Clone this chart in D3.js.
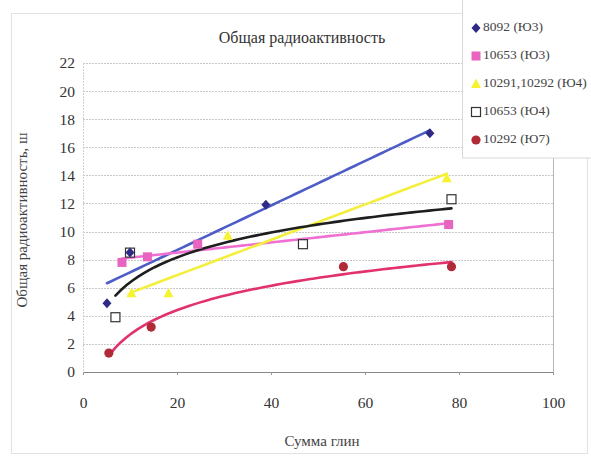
<!DOCTYPE html>
<html><head><meta charset="utf-8">
<script src="https://cdn.jsdelivr.net/npm/d3@7"></script>
<style>body{margin:0;background:#fff}svg{display:block}text{font-family:"Liberation Serif","Times New Roman",serif}</style>
</head><body>
<svg id="c" width="591" height="458"></svg>
<script>
const chartTitle = "Общая радиоактивность";
const xTitle = "Сумма глин";
const yTitle = "Общая радиоактивность, ш";
const xTicks = [0, 20, 40, 60, 80, 100];
const yTicks = [0, 2, 4, 6, 8, 10, 12, 14, 16, 18, 20, 22];
const seriesNames = ["8092 (Ю3)", "10653 (Ю3)", "10291,10292 (Ю4)", "10653 (Ю4)", "10292 (Ю7)"];
const s1x = [5.1, 10, 38.9, 73.8],  s1y = [4.9, 8.5, 11.9, 17.0];
const s2x = [8.3, 13.7, 24.4, 77.8], s2y = [7.8, 8.2, 9.1, 10.5];
const s3x = [10.3, 18.2, 30.8, 77.4], s3y = [5.6, 5.6, 9.7, 13.8];
const s4x = [6.9, 10, 46.8, 78.4], s4y = [3.9, 8.5, 9.1, 12.3];
const s5x = [5.5, 14.5, 55.4, 78.4], s5y = [1.35, 3.2, 7.5, 7.5];
const trendTypes = ["linear", "linear", "linear", "log", "log"];

const styles = [
  {marker:"diamond", fill:"#2e2a86", stroke:"none", line:"#4d5cc6"},
  {marker:"square", fill:"#e864c0", stroke:"none", line:"#ef6fd2"},
  {marker:"triangle", fill:"#f6f432", stroke:"none", line:"#f4ee3c"},
  {marker:"square", fill:"#fff", stroke:"#333", line:"#1e1e1e"},
  {marker:"circle", fill:"#b02a38", stroke:"none", line:"#e2326c"}
];
const series = [[s1x,s1y],[s2x,s2y],[s3x,s3y],[s4x,s4y],[s5x,s5y]].map((d,i)=>({
  name: seriesNames[i], pts: d[0].map((x,j)=>({x, y:d[1][j]})), trend: trendTypes[i], st: styles[i]
}));

const svg = d3.select("#c");
const x = d3.scaleLinear().domain([0,100]).range([83,553]);
const y = d3.scaleLinear().domain([0,22]).range([372,63]);

// outer chart border
svg.append("rect").attr("x",11.5).attr("y",13.5).attr("width",576).attr("height",440)
  .attr("fill","none").attr("stroke","#e2e2e2");

// grid
svg.append("g").selectAll("line").data(yTicks.filter(t=>t>0)).join("line")
  .attr("x1",83).attr("x2",553).attr("y1",d=>Math.round(y(d))+0.5).attr("y2",d=>Math.round(y(d))+0.5)
  .attr("stroke","#c8c8c8").attr("stroke-dasharray","2,1");
svg.append("line").attr("x1",83.5).attr("x2",83.5).attr("y1",63).attr("y2",372)
  .attr("stroke","#d0d0d0").attr("stroke-dasharray","2,1");
svg.append("line").attr("x1",553.5).attr("x2",553.5).attr("y1",63).attr("y2",372)
  .attr("stroke","#b8b8b8");
svg.append("line").attr("x1",83).attr("x2",554).attr("y1",372.5).attr("y2",372.5)
  .attr("stroke","#888");

// axes
const xAxis = svg.append("g").attr("transform","translate(0,372)")
  .call(d3.axisBottom(x).tickValues(xTicks).tickSize(3).tickPadding(22));
const yAxis = svg.append("g").attr("transform","translate(83,0)")
  .call(d3.axisLeft(y).tickValues(yTicks).tickSize(0).tickPadding(8));
[xAxis,yAxis].forEach(a=>{
  a.select(".domain").remove();
  a.selectAll("line").attr("stroke","#999");
  a.selectAll("text").attr("font-family","Liberation Serif").attr("font-size",15.5).attr("fill","#333");
});

// trendlines
function fit(pts, type){
  const X = pts.map(p=> type==="log" ? Math.log(p.x) : p.x);
  const Y = pts.map(p=>p.y);
  const mx = d3.mean(X), my = d3.mean(Y);
  const b = d3.sum(X.map((v,i)=>(v-mx)*(Y[i]-my))) / d3.sum(X.map(v=>(v-mx)*(v-mx)));
  const a = my - b*mx;
  return v => a + b*(type==="log" ? Math.log(v) : v);
}
const line = d3.line().x(d=>x(d[0])).y(d=>y(d[1])).curve(d3.curveLinear);
series.forEach(s=>{
  const f = fit(s.pts, s.trend);
  const [x0,x1] = d3.extent(s.pts, p=>p.x);
  const samples = d3.range(0,61).map(i=>{const v = x0+(x1-x0)*i/60; return [v, f(v)];});
  svg.append("path").attr("d", line(samples)).attr("fill","none")
    .attr("stroke", s.st.line).attr("stroke-width",2.6).attr("stroke-linecap","round");
});

// markers
function drawMarker(g, type, st, cx, cy){
  if(type==="diamond") g.append("path").attr("d",`M${cx},${cy-5}L${cx+4.5},${cy}L${cx},${cy+5}L${cx-4.5},${cy}Z`).attr("fill",st.fill);
  else if(type==="square") g.append("rect").attr("x",cx-4.5).attr("y",cy-4.5).attr("width",9).attr("height",9)
    .attr("fill",st.fill).attr("stroke",st.stroke).attr("stroke-width",st.stroke==="none"?0:1.2);
  else if(type==="triangle") g.append("path").attr("d",`M${cx},${cy-5.5}L${cx+5},${cy+4}L${cx-5},${cy+4}Z`).attr("fill",st.fill);
  else g.append("circle").attr("cx",cx).attr("cy",cy).attr("r",4.6).attr("fill",st.fill);
}
const mg = svg.append("g");
[3,2,1,4,0].forEach(i=>{
  const s = series[i];
  s.pts.forEach(p=>drawMarker(mg, s.st.marker, s.st, x(p.x), y(p.y)));
});

// legend
const lg = svg.append("g");
lg.append("rect").attr("x",462.5).attr("y",-1).attr("width",140).attr("height",159)
  .attr("fill","#fff").attr("stroke","#d8d8d8");
series.forEach((s,i)=>{
  const cy = 28 + i*28;
  drawMarker(lg, s.st.marker, s.st, 476, cy);
  lg.append("text").attr("x",483).attr("y",cy).attr("dy","0.2em")
    .attr("font-size",13.5).attr("fill","#444").text(s.name);
});

// titles
svg.append("text").attr("x",302).attr("y",43).attr("text-anchor","middle")
  .attr("font-size",16).attr("fill","#333").text(chartTitle);
svg.append("text").attr("x",322).attr("y",446).attr("text-anchor","middle")
  .attr("font-size",15).attr("fill","#444").text(xTitle);
svg.append("text").attr("transform","translate(27,220) rotate(-90)").attr("text-anchor","middle")
  .attr("font-size",15).attr("fill","#444").text(yTitle);
</script>
</body></html>
